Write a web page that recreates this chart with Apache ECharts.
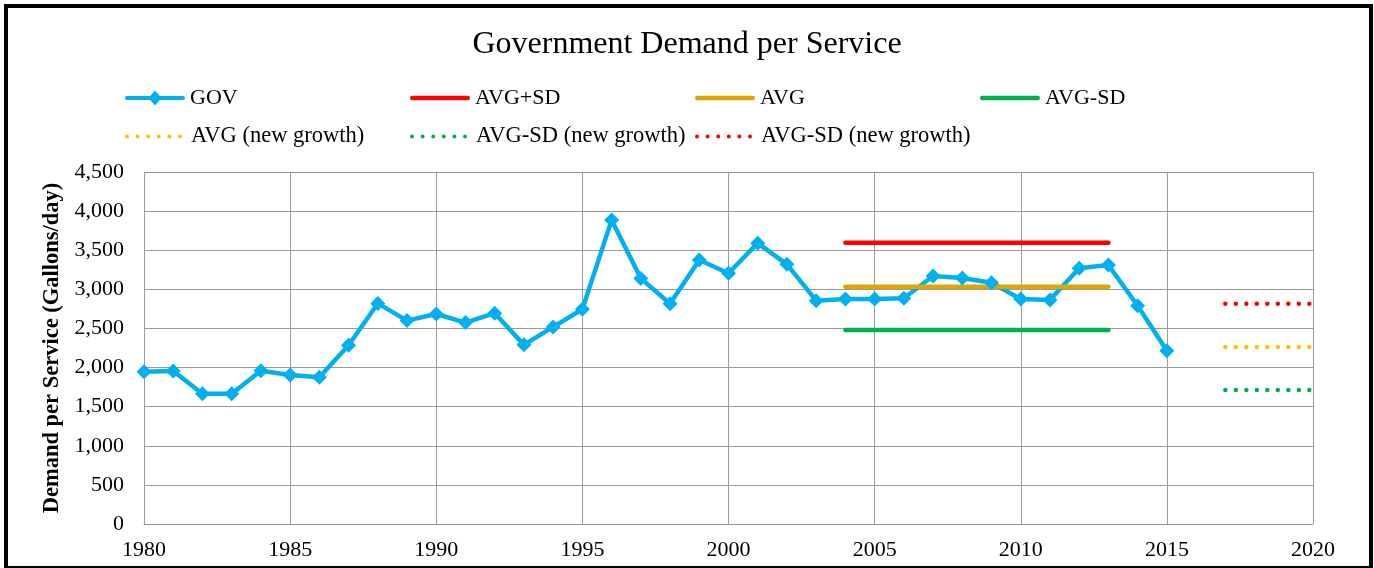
<!DOCTYPE html>
<html>
<head>
<meta charset="utf-8">
<script src="https://cdn.jsdelivr.net/npm/echarts@6/dist/echarts.min.js"></script>
<style>
  html, body { margin: 0; padding: 0; background: #fff; overflow: hidden; }
  #chart { position: absolute; left: 0; top: 0; width: 1374px; height: 568px; }
  #frame { position: absolute; left: 4px; top: 4px; width: 1361px; height: 558px; border: 4px solid #000; pointer-events: none; }
</style>
</head>
<body>
<div id="chart"></div>
<div id="frame"></div>
<script>
// ---- data ----
const govYears = [1980,1981,1982,1983,1984,1985,1986,1987,1988,1989,1990,1991,1992,1993,1994,1995,1996,1997,1998,1999,2000,2001,2002,2003,2004,2005,2006,2007,2008,2009,2010,2011,2012,2013,2014,2015];
const govValues = [1945,1955,1665,1665,1960,1905,1875,2285,2820,2600,2685,2575,2695,2290,2520,2745,3885,3140,2815,3375,3205,3590,3320,2855,2875,2875,2885,3170,3145,3085,2875,2865,3270,3310,2790,2215];
const statYears = [2004, 2013];
const avgPlusSd = 3595;
const avg = 3033;
const avgMinusSd = 2480;
const newGrowthYears = [2017, 2020];
const avgNew = 2262;
const avgMinusSdNew = 1712;
const avgPlusSdNew = 2815;
const xTicks = { min: 1980, max: 2020, interval: 5 };
const yTicks = { min: 0, max: 4500, interval: 500 };

const pairs = (xs, ys) => xs.map((x, i) => [x, ys[i]]);
const flat = (xs, v) => xs.map(x => [x, v]);

const FONT = '"Liberation Serif", "Times New Roman", serif';
const dotDash = [0.001, 10.5];

// legend icon shapes
const ICON_GOV = 'path://M2,5.5 L58,5.5 A2,2 0 0 1 58,9.5 L2,9.5 A2,2 0 0 1 2,5.5 Z M30,0 L36.5,7.5 L30,15 L23.5,7.5 Z';
const ICON_SOLID = 'path://M2.25,0 L57.75,0 A2.25,2.25 0 0 1 57.75,4.5 L2.25,4.5 A2.25,2.25 0 0 1 2.25,0 Z';
let dots = '';
for (let i = 0; i < 6; i++) {
  const cx = 2 + 10.6 * i;
  dots += 'M' + (cx - 2) + ',2 A2,2 0 1 0 ' + (cx + 2) + ',2 A2,2 0 1 0 ' + (cx - 2) + ',2 Z ';
}
const ICON_DOTS = 'path://' + dots;

const chart = echarts.init(document.getElementById('chart'), null, { renderer: 'canvas' });

function lg(name, left, top, icon, w, h, extra) {
  return Object.assign({
    data: [{ name: name, icon: icon }],
    left: left, top: top, padding: 0,
    itemWidth: w, itemHeight: h,
    textStyle: { fontFamily: FONT, fontSize: 22, color: '#000' },
    selectedMode: false
  }, extra || {});
}
const dotText = { textStyle: { fontFamily: FONT, fontSize: 22.5, color: '#000', padding: [0, 0, 0, 4] } };

chart.setOption({
  animation: false,
  title: {
    text: 'Government Demand per Service',
    left: 'center',
    top: 24,
    textStyle: { fontFamily: FONT, fontSize: 32, fontWeight: 'normal', color: '#000' }
  },
  legend: [
    lg('GOV', 125, 87, ICON_GOV, 60, 15),
    lg('AVG+SD', 410, 87, ICON_SOLID, 60, 4.5),
    lg('AVG', 695, 87, ICON_SOLID, 60, 4.5),
    lg('AVG-SD', 980, 87, ICON_SOLID, 60, 4.5),
    lg('AVG (new growth)', 125, 125, ICON_DOTS, 57, 4, dotText),
    lg('AVG-SD (new growth)', 410, 125, ICON_DOTS, 57, 4, dotText),
    lg('AVG-SD (new growth) red', 695, 125, ICON_DOTS, 57, 4,
      Object.assign({ formatter: () => 'AVG-SD (new growth)' }, dotText))
  ],
  grid: { left: 144, right: 61, top: 172, bottom: 44, containLabel: false },
  xAxis: {
    type: 'value',
    min: xTicks.min, max: xTicks.max, interval: xTicks.interval,
    axisLine: { show: true, lineStyle: { color: '#9a9a9a', width: 1 } },
    axisTick: { show: false },
    axisLabel: { fontFamily: FONT, fontSize: 22, color: '#000', margin: 15, formatter: v => String(v) },
    splitLine: { show: true, lineStyle: { color: '#9a9a9a', width: 1 } }
  },
  yAxis: {
    type: 'value',
    min: yTicks.min, max: yTicks.max, interval: yTicks.interval,
    name: 'Demand per Service (Gallons/day)',
    nameLocation: 'middle',
    nameGap: 73,
    nameTextStyle: { fontFamily: FONT, fontSize: 22.5, fontWeight: 'bold', color: '#000' },
    axisLine: { show: false },
    axisTick: { show: false },
    axisLabel: { fontFamily: FONT, fontSize: 22, color: '#000', margin: 20,
      formatter: v => v.toLocaleString('en-US') },
    splitLine: { show: true, lineStyle: { color: '#9a9a9a', width: 1 } }
  },
  series: [
    {
      name: 'GOV', type: 'line', data: pairs(govYears, govValues),
      symbol: 'diamond', symbolSize: 15, showSymbol: true,
      itemStyle: { color: '#00B0F0' },
      lineStyle: { color: '#00B0F0', width: 4.5 }
    },
    {
      name: 'AVG+SD', type: 'line', data: flat(statYears, avgPlusSd), symbol: 'none',
      itemStyle: { color: '#FF0000' },
      lineStyle: { color: '#FF0000', width: 4.5, cap: 'round' }
    },
    {
      name: 'AVG', type: 'line', data: flat(statYears, avg), symbol: 'none',
      itemStyle: { color: '#E0A500' },
      lineStyle: { color: '#E0A500', width: 4.5, cap: 'round' }
    },
    {
      name: 'AVG-SD', type: 'line', data: flat(statYears, avgMinusSd), symbol: 'none',
      itemStyle: { color: '#00B050' },
      lineStyle: { color: '#00B050', width: 4.5, cap: 'round' }
    },
    {
      name: 'AVG (new growth)', type: 'line', data: flat(newGrowthYears, avgNew), symbol: 'none',
      itemStyle: { color: '#FFC000' },
      lineStyle: { color: '#FFC000', width: 4.5, type: dotDash, cap: 'round' }
    },
    {
      name: 'AVG-SD (new growth)', type: 'line', data: flat(newGrowthYears, avgMinusSdNew), symbol: 'none',
      itemStyle: { color: '#00B050' },
      lineStyle: { color: '#00B050', width: 4.5, type: dotDash, cap: 'round' }
    },
    {
      name: 'AVG-SD (new growth) red', type: 'line', data: flat(newGrowthYears, avgPlusSdNew), symbol: 'none',
      itemStyle: { color: '#FF0000' },
      lineStyle: { color: '#FF0000', width: 4.5, type: dotDash, cap: 'round' }
    }
  ]
});
</script>
</body>
</html>
